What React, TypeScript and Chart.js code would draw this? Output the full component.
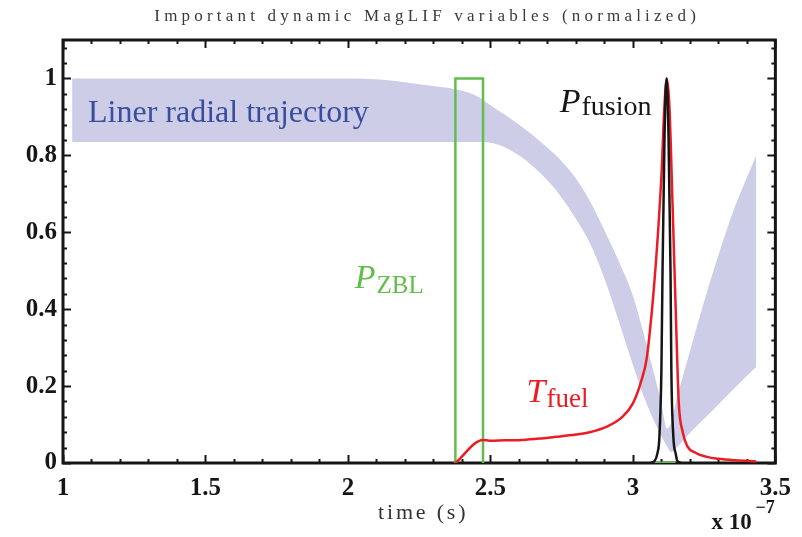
import React, { useEffect, useRef } from 'react';
import { Chart, registerables } from 'chart.js';
Chart.register(...registerables);

// ---- axis ticks ----
const xTickValues = [1, 1.5, 2, 2.5, 3, 3.5];
const xTickLabels = ['1', '1.5', '2', '2.5', '3', '3.5'];
const yTickValues = [0, 0.2, 0.4, 0.6, 0.8, 1];
const yTickLabels = ['0', '0.2', '0.4', '0.6', '0.8', '1'];

// ---- liner radial trajectory band (normalized) ----
const bandX = [1.032, 1.5, 2.0, 2.15, 2.25, 2.39, 2.45, 2.5, 2.6, 2.7, 2.75, 2.8, 2.85, 2.9, 2.95, 3.0, 3.04, 3.08, 3.1, 3.12, 3.135, 3.145, 3.2, 3.25, 3.3, 3.35, 3.433];
const linerUpper = [1.0, 1.0, 1.0, 0.995, 0.985, 0.97, 0.955, 0.93, 0.88, 0.82, 0.785, 0.74, 0.68, 0.605, 0.525, 0.435, 0.33, 0.215, 0.155, 0.09, 0.105, 0.14, 0.29, 0.42, 0.54, 0.65, 0.8];
const linerLower = [0.835, 0.835, 0.835, 0.835, 0.835, 0.835, 0.835, 0.833, 0.8, 0.735, 0.69, 0.635, 0.57, 0.48, 0.37, 0.255, 0.17, 0.1, 0.07, 0.043, 0.028, 0.034, 0.078, 0.115, 0.152, 0.19, 0.25];

// ---- P_ZBL (current pulse) ----
const zblX = [2.377, 2.377, 2.474, 2.474, 2.8, 3.07, 3.15];
const zblY: (number | null)[] = [0, 1, 1, 0, null, 0, 0];

// ---- T_fuel ----
const tFuelX = [2.377, 2.474, 2.497, 2.55, 2.613, 2.68, 2.732, 2.8, 2.848, 2.907, 2.963, 3.0, 3.03, 3.048, 3.069, 3.087, 3.101, 3.11, 3.119, 3.128, 3.139, 3.153, 3.161, 3.175, 3.19, 3.221, 3.26, 3.3, 3.36, 3.433];
const tFuelY = [0, 0.06, 0.058, 0.059, 0.06, 0.064, 0.068, 0.074, 0.08, 0.094, 0.12, 0.155, 0.215, 0.27, 0.415, 0.587, 0.76, 0.92, 1.0, 0.93, 0.676, 0.33, 0.156, 0.08, 0.045, 0.026, 0.016, 0.011, 0.007, 0.004];

// ---- P_fusion ----
const pFusX = [3.06, 3.076, 3.086, 3.093, 3.1, 3.104, 3.108, 3.111, 3.114, 3.118, 3.122, 3.125, 3.128, 3.132, 3.135, 3.142, 3.15, 3.156, 3.17];
const pFusY = [0, 0.005, 0.025, 0.068, 0.24, 0.5, 0.7, 0.85, 0.95, 1.0, 0.95, 0.85, 0.7, 0.5, 0.24, 0.068, 0.025, 0.005, 0];

const TITLE = 'Important dynamic MagLIF variables (normalized)';
const X_TITLE = 'time (s)';

const BAND = 'rgb(205,205,231)';
const GREEN = 'rgb(98,190,75)';
const RED = 'rgb(236,28,36)';
const BLACK = '#161616';
const BLUE = 'rgb(58,78,160)';
const SERIF = '"Liberation Serif", "DejaVu Serif", serif';

const pts = (xs: number[], ys: (number | null)[]) => xs.map((x, i) => ({ x, y: ys[i] }));

function drawSub(ctx: CanvasRenderingContext2D, main: string, sub: string, x: number, y: number, color: string, mainSize: number, subSize: number, drop: number) {
  ctx.fillStyle = color;
  ctx.textBaseline = 'alphabetic';
  ctx.textAlign = 'left';
  ctx.font = `italic ${mainSize}px ${SERIF}`;
  ctx.fillText(main, x, y);
  const w = ctx.measureText(main).width;
  ctx.font = `${subSize}px ${SERIF}`;
  ctx.fillText(sub, x + w + 1, y + drop);
}

const decor = {
  id: 'decor',
  beforeDatasetsDraw(chart: any) {
    const { ctx, chartArea: a, scales } = chart;
    const xs = scales.x, ys = scales.y;
    ctx.save();
    ctx.strokeStyle = BLACK;
    ctx.lineWidth = 2;
    ctx.lineCap = 'butt';
    for (let i = 0; i <= 25; i++) {
      const v = 1 + i * 0.1;
      const px = Math.round(xs.getPixelForValue(v)) + 0.5;
      const len = i % 5 === 0 ? 8 : 4;
      ctx.beginPath();
      ctx.moveTo(px, a.bottom); ctx.lineTo(px, a.bottom - len);
      ctx.moveTo(px, a.top); ctx.lineTo(px, a.top + len);
      ctx.stroke();
    }
    for (let i = 0; i <= 27; i++) {
      const v = i * 0.04;
      const py = Math.round(ys.getPixelForValue(v)) + 0.5;
      const len = i % 5 === 0 ? 8 : 4;
      ctx.beginPath();
      ctx.moveTo(a.left, py); ctx.lineTo(a.left + len, py);
      ctx.moveTo(a.right, py); ctx.lineTo(a.right - len, py);
      ctx.stroke();
    }
    ctx.lineWidth = 3;
    ctx.strokeRect(a.left, a.top, a.right - a.left, a.bottom - a.top);
    ctx.restore();
  },
  afterDraw(chart: any) {
    const { ctx, chartArea: a, scales } = chart;
    const xs = scales.x, ys = scales.y;
    ctx.save();
    // title
    ctx.fillStyle = '#3a3a3a';
    ctx.font = `17px ${SERIF}`;
    (ctx as any).letterSpacing = '4.2px';
    ctx.textAlign = 'center';
    ctx.textBaseline = 'middle';
    ctx.fillText(TITLE, (a.left + a.right) / 2 + 8, 17);
    // x title
    ctx.fillStyle = '#333';
    ctx.font = `22px ${SERIF}`;
    (ctx as any).letterSpacing = '2.8px';
    ctx.fillText(X_TITLE, (a.left + a.right) / 2 + 4, a.bottom + 50);
    (ctx as any).letterSpacing = '0px';
    // exponent
    ctx.fillStyle = BLACK;
    ctx.textAlign = 'left';
    ctx.textBaseline = 'alphabetic';
    ctx.font = `bold 23px ${SERIF}`;
    ctx.fillText('x 10', a.right - 64, a.bottom + 66);
    ctx.font = `bold 18px ${SERIF}`;
    ctx.fillText('\u22127', a.right - 20, a.bottom + 50);
    // Liner label
    ctx.fillStyle = BLUE;
    ctx.font = `32px ${SERIF}`;
    ctx.fillText('Liner radial trajectory', xs.getPixelForValue(1.088), ys.getPixelForValue(0.888));
    drawSub(ctx, 'P', 'fusion', xs.getPixelForValue(2.743), ys.getPixelForValue(0.912), BLACK, 34, 28, 3);
    drawSub(ctx, 'P', 'ZBL', xs.getPixelForValue(2.024), ys.getPixelForValue(0.455), GREEN, 34, 25, 5);
    drawSub(ctx, 'T', 'fuel', xs.getPixelForValue(2.627), ys.getPixelForValue(0.158), RED, 34, 27, 5);
    ctx.restore();
  },
};

export default function App() {
  const ref = useRef<HTMLCanvasElement | null>(null);
  useEffect(() => {
    const canvas = ref.current!;
    const chart = new Chart(canvas, {
      type: 'line',
      data: {
        datasets: [
          { data: pts(pFusX, pFusY), borderColor: BLACK, borderWidth: 2.5, pointRadius: 0, cubicInterpolationMode: 'monotone', fill: false } as any,
          { data: pts(tFuelX, tFuelY), borderColor: RED, borderWidth: 2.5, pointRadius: 0, cubicInterpolationMode: 'monotone', fill: false } as any,
          { data: pts(zblX, zblY), borderColor: GREEN, borderWidth: 2.5, pointRadius: 0, tension: 0, spanGaps: false, fill: false } as any,
          { data: pts(bandX, linerLower), borderColor: 'rgba(0,0,0,0)', borderWidth: 0, pointRadius: 0, cubicInterpolationMode: 'monotone', fill: false } as any,
          { data: pts(bandX, linerUpper), borderColor: 'rgba(0,0,0,0)', borderWidth: 0, pointRadius: 0, cubicInterpolationMode: 'monotone', fill: '-1', backgroundColor: BAND } as any,
        ],
      },
      options: {
        responsive: false,
        animation: false,
        events: [],
        layout: { padding: { left: 0, top: 40, right: 26, bottom: 0 } },
        plugins: { legend: { display: false }, tooltip: { enabled: false }, title: { display: false } },
        scales: {
          x: {
            type: 'linear', min: 1, max: 3.5,
            grid: { display: false, drawTicks: false },
            border: { display: false },
            afterFit: (s: any) => { s.height = 74; },
            afterBuildTicks: (s: any) => { s.ticks = xTickValues.map((v) => ({ value: v })); },
            ticks: {
              padding: 11,
              color: BLACK,
              font: { family: SERIF, weight: 'bold', size: 25 },
              maxRotation: 0,
              autoSkip: false,
              callback: (v: any) => xTickLabels[xTickValues.indexOf(Number(v))] ?? '',
            },
          },
          y: {
            type: 'linear', min: 0, max: 1.1,
            grid: { display: false, drawTicks: false },
            border: { display: false },
            afterFit: (s: any) => { s.width = 63; },
            afterBuildTicks: (s: any) => { s.ticks = yTickValues.map((v) => ({ value: v })); },
            ticks: {
              padding: 6,
              color: BLACK,
              font: { family: SERIF, weight: 'bold', size: 25 },
              autoSkip: false,
              callback: (v: any) => {
                const i = yTickValues.findIndex((t) => Math.abs(t - Number(v)) < 1e-9);
                return i >= 0 ? yTickLabels[i] : '';
              },
            },
          },
        },
      },
      plugins: [decor],
    } as any);
    return () => chart.destroy();
  }, []);
  return (
    <div style={{ position: 'absolute', left: 0, top: 0, width: 802, height: 537, background: '#fff' }}>
      <canvas ref={ref} width={802} height={537} style={{ display: 'block' }} />
    </div>
  );
}
